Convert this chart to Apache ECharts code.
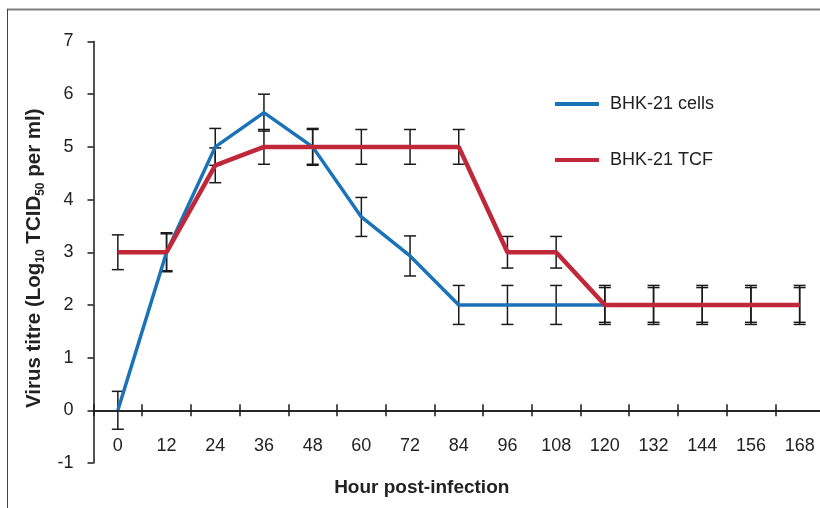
<!DOCTYPE html>
<html>
	<head>
		<meta charset="UTF-8">
		<title>Virus titre</title>
		<script src="https://cdn.jsdelivr.net/npm/echarts@6/dist/echarts.min.js"></script>
		<style>
			html, body { margin: 0; padding: 0; background: #fff; }
			#main { width: 820px; height: 508px; }
		</style>
	</head>
	<body>
		<div id="main"></div>
		<script type="text/javascript">
			var hours = ['0', '12', '24', '36', '48', '60', '72', '84', '96', '108', '120', '132', '144', '156', '168'];
			var cellsTitre = [0, 3, 5, 5.65, 5, 3.67, 2.93, 2, 2, 2, 2, 2, 2, 2, 2];
			var cellsErr = [0.36, 0.37, 0.35, 0.35, 0.33, 0.37, 0.38, 0.37, 0.37, 0.37, 0.37, 0.37, 0.37, 0.37, 0.37];
			var tcfTitre = [3, 3, 4.65, 5, 5, 5, 5, 5, 3, 3, 2, 2, 2, 2, 2];
			var tcfErr = [0.33, 0.35, 0.33, 0.33, 0.35, 0.33, 0.33, 0.33, 0.3, 0.3, 0.33, 0.33, 0.33, 0.33, 0.33];

			var font = 'Liberation Sans, Arial, sans-serif';
			var txt = '#222';

			function errData(vals, errs) {
				var out = [];
				for (var i = 0; i < vals.length; i++) {
					out.push([i, vals[i] - errs[i], vals[i] + errs[i]]);
				}
				return out;
			}

			// error bar: vertical line + two caps
			function renderErr(params, api) {
				var lo = api.coord([api.value(0), api.value(1)]);
				var hi = api.coord([api.value(0), api.value(2)]);
				var w = 6;
				var st = { stroke: '#1a1a1a', lineWidth: 1.5 };
				return {
					type: 'group',
					children: [
						{ type: 'line', shape: { x1: lo[0], y1: lo[1], x2: hi[0], y2: hi[1] }, style: st },
						{ type: 'line', shape: { x1: lo[0] - w, y1: lo[1], x2: lo[0] + w, y2: lo[1] }, style: st },
						{ type: 'line', shape: { x1: hi[0] - w, y1: hi[1], x2: hi[0] + w, y2: hi[1] }, style: st }
					]
				};
			}

			var myChart = echarts.init(document.getElementById('main'));
			var option = {
				animation: false,
				textStyle: { fontFamily: font },
				grid: { left: 93.5, right: -4, top: 41.5, bottom: 45, containLabel: false, outerBoundsMode: 'none' },
				legend: {
					data: [{ name: 'BHK-21 cells', icon: 'rect' }, { name: 'BHK-21 TCF', icon: 'rect' }],
					orient: 'vertical',
					left: 550,
					top: 90,
					itemWidth: 44,
					itemHeight: 4,
					itemGap: 38,
					textStyle: { fontSize: 18, color: txt, fontFamily: font, padding: [0, 0, 0, 6] }
				},
				xAxis: [{
					type: 'category',
					data: hours,
					boundaryGap: true,
					position: 'bottom',
					axisLine: { onZero: true, onZeroAxisIndex: 0, lineStyle: { color: '#1a1a1a', width: 1.5 } },
					axisTick: { show: true, length: 6, lineStyle: { color: '#1a1a1a', width: 1.5 } },
					axisLabel: { fontSize: 18, color: txt, margin: -26, fontFamily: font },
					splitLine: { show: false },
					name: 'Hour post-infection',
					nameLocation: 'middle',
					nameGap: 15,
					nameTextStyle: { fontSize: 19, fontWeight: 'bold', color: txt, fontFamily: font, padding: [0, 74, 0, 0] }
				}, {
					type: 'category',
					data: hours,
					boundaryGap: true,
					position: 'top',
					axisLine: { onZero: true, onZeroAxisIndex: 0, lineStyle: { color: '#1a1a1a', width: 1.5 } },
					axisTick: { show: true, length: 6, lineStyle: { color: '#1a1a1a', width: 1.5 } },
					axisLabel: { show: false },
					splitLine: { show: false }
				}],
				yAxis: {
					type: 'value',
					min: -1,
					max: 7,
					interval: 1,
					axisLine: { show: true, onZero: false, lineStyle: { color: '#1a1a1a', width: 1.5 } },
					axisTick: { show: true, length: 6, lineStyle: { color: '#1a1a1a', width: 1.5 } },
					axisLabel: { fontSize: 18, color: txt, margin: 20, fontFamily: font },
					splitLine: { show: false },
					name: 'Virus titre (Log{s|10} TCID{s|50} per ml)',
					nameLocation: 'middle',
					nameGap: 41,
					nameTextStyle: {
						fontSize: 20.5, fontWeight: 'bold', color: txt, fontFamily: font, lineHeight: 24,
						padding: [0, 12, 0, 0],
						rich: {
							s: { fontSize: 12, fontWeight: 'bold', color: txt, fontFamily: font, lineHeight: 13, verticalAlign: 'bottom' }
						}
					}
				},
				graphic: [
					{ type: 'line', shape: { x1: 7, y1: 9.5, x2: 820, y2: 9.5 }, style: { stroke: '#808080', lineWidth: 2 } },
					{ type: 'line', shape: { x1: 7.5, y1: 9, x2: 7.5, y2: 508 }, style: { stroke: '#444', lineWidth: 1 } }
				],
				series: [{
					type: 'custom',
					name: 'cellsErr',
					z: 1,
					renderItem: renderErr,
					data: errData(cellsTitre, cellsErr)
				}, {
					type: 'custom',
					name: 'tcfErr',
					z: 1,
					renderItem: renderErr,
					data: errData(tcfTitre, tcfErr)
				}, {
					type: 'line',
					name: 'BHK-21 cells',
					data: cellsTitre,
					symbol: 'none',
					z: 3,
					itemStyle: { color: '#1a72b8' },
					lineStyle: { color: '#1a72b8', width: 3.5 }
				}, {
					type: 'line',
					name: 'BHK-21 TCF',
					data: tcfTitre,
					symbol: 'none',
					z: 4,
					itemStyle: { color: '#c0283a' },
					lineStyle: { color: '#c0283a', width: 4.5 }
				}]
			};
			myChart.setOption(option);
		</script>
	</body>
</html>
